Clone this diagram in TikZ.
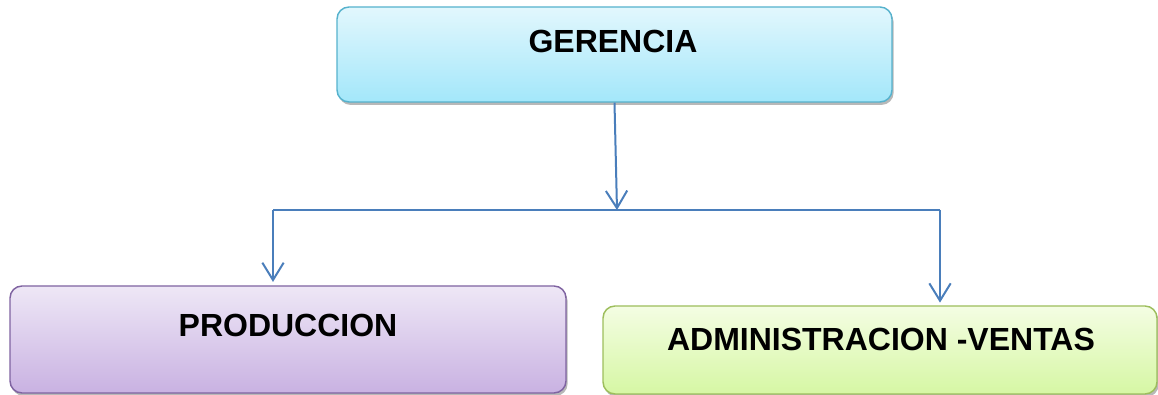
\documentclass[tikz,border=0pt]{standalone}
\usepackage{fontspec}
\setmainfont{Liberation Sans}
\usetikzlibrary{arrows.meta,fit,shadows}
\definecolor{linkblue}{HTML}{4A7EBB}
\definecolor{cyanA}{HTML}{E2F7FD}
\definecolor{cyanB}{HTML}{A3E7FA}
\definecolor{cyanE}{HTML}{56B2CD}
\definecolor{violA}{HTML}{EEE7F6}
\definecolor{violB}{HTML}{C9B2E2}
\definecolor{violE}{HTML}{7F63A1}
\definecolor{limeA}{HTML}{F4FDE3}
\definecolor{limeB}{HTML}{D6F7A4}
\definecolor{limeE}{HTML}{9DBE5C}
\tikzset{
  unitbox/.style={rounded corners=9pt, line width=1.1pt, inner sep=0pt,
    drop shadow={shadow xshift=1.2pt, shadow yshift=-2.2pt, opacity=0.28, fill=black}},
  title/.style={anchor=base, inner sep=0pt, font=\fontsize{24}{28}\selectfont\bfseries},
  link/.style={draw=linkblue, line width=1.5pt},
  linkarrow/.style={link, -{Straight Barb[length=13pt, width=16pt, line width=1.5pt]}}
}
\begin{document}
\begin{tikzpicture}[x=0.75pt, y=-0.75pt]
  \useasboundingbox (0,0) rectangle (1158,395);

  % boxes
  \node[unitbox, draw=cyanE, top color=cyanA, bottom color=cyanB,
        fit={(337,7) (892,102)}] (ger) {};
  \node[unitbox, draw=violE, top color=violA, bottom color=violB,
        fit={(10,286) (566,393)}] (prod) {};
  \node[unitbox, draw=limeE, top color=limeA, bottom color=limeB,
        fit={(603,306) (1157,394)}] (adm) {};

  % box titles
  \node[title] (gert) at (613,53) {GERENCIA};
  \node[title] (prodt) at (288,337) {PRODUCCION};
  \node[title] (admt) at (881,351) {ADMINISTRACION -VENTAS};

  % connectors
  \coordinate (j) at (617,210);
  \coordinate (jl) at (273,210);
  \coordinate (jr) at (940,210);
  \draw[linkarrow] (ger.south) -- (j);
  \draw[link] (jl) -- (jr);
  \draw[linkarrow, shorten >=2.5pt] (jl) -- (jl |- prod.north);
  \draw[linkarrow, shorten >=2pt] (jr) -- (jr |- adm.north);
\end{tikzpicture}
\end{document}
